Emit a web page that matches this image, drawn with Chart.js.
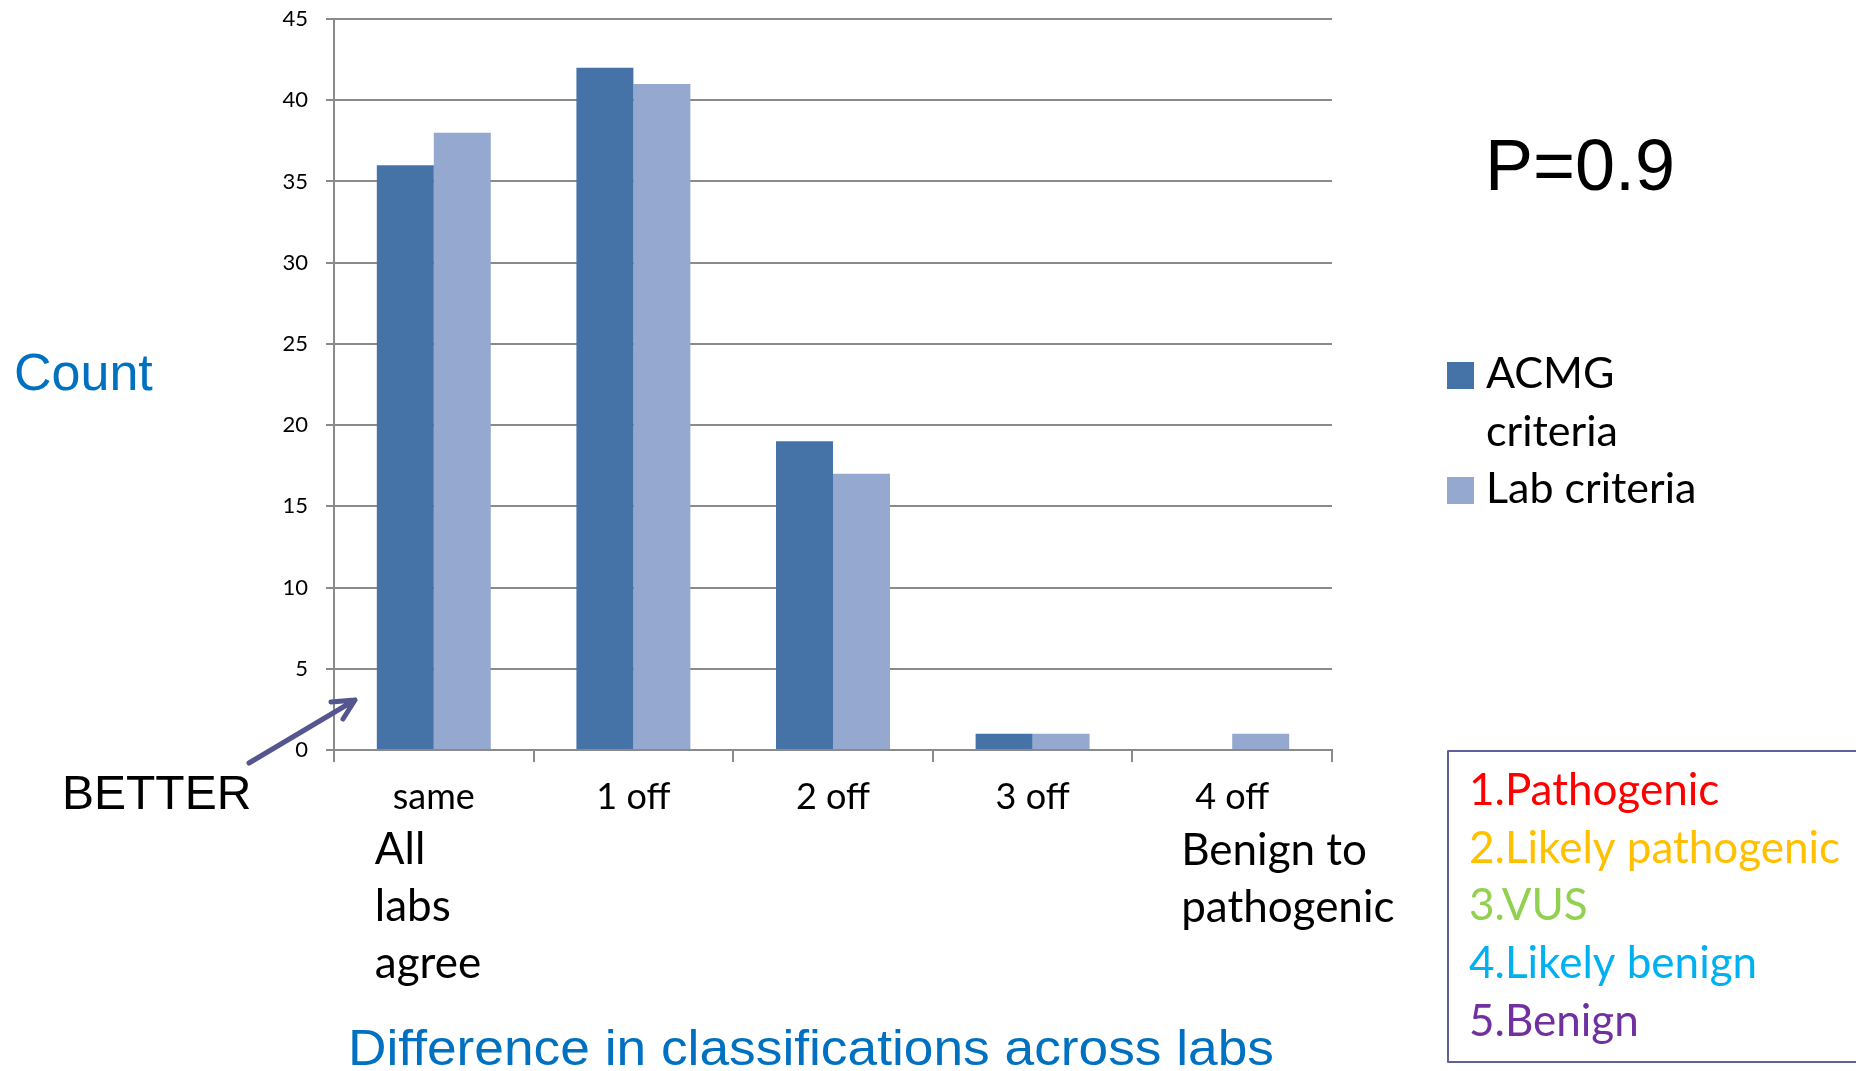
<!DOCTYPE html>
<html>
<head>
<meta charset="utf-8">
<style>
  html, body { margin: 0; padding: 0; background: #fff; }
  #wrap { width: 1856px; height: 1071px; position: relative; }
</style>
<script src="https://cdn.jsdelivr.net/npm/chart.js@4.4.1/dist/chart.umd.min.js"></script>
</head>
<body>
<div id="wrap"><canvas id="diffChart" width="1856" height="1071"></canvas></div>
<script>
// data
const categories = ['same', '1 off', '2 off', '3 off', '4 off'];
const acmgCounts = [36, 42, 19, 1, 0];
const labCounts = [38, 41, 17, 1, 1];
const seriesNames = ['ACMG criteria', 'Lab criteria'];
const yTicks = [0, 5, 10, 15, 20, 25, 30, 35, 40, 45];
const classLabels = ['1.Pathogenic', '2.Likely pathogenic', '3.VUS', '4.Likely benign', '5.Benign'];
const classColors = ['#ff0000', '#ffc000', '#92d050', '#00b0f0', '#7030a0'];

const DARK = '#4573a7';
const LIGHT = '#95a9d0';
const GRID = '#8a8a8a';
const BLUE_TXT = '#0070c0';

// extra slide text: axis titles, notes, legend boxes
const slideText = {
    id: 'slideText',
    afterDraw(chart) {
        const ctx = chart.ctx;
        const x = chart.scales.x;
        ctx.save();
        ctx.textBaseline = 'alphabetic';
        ctx.textAlign = 'left';

        // axis titles
        ctx.fillStyle = BLUE_TXT;
        ctx.font = '52px "Liberation Sans", Arial, sans-serif';
        ctx.fillText('Count', 14, 390);

        const title = 'Difference in classifications across labs';
        ctx.font = '50px "Liberation Sans", Arial, sans-serif';
        const tw = ctx.measureText(title).width;
        ctx.save();
        ctx.translate(348, 1065);
        ctx.scale(926 / tw, 1);
        ctx.fillText(title, 0, 0);
        ctx.restore();

        // P value
        ctx.fillStyle = '#000';
        ctx.font = '72px "Liberation Sans", Arial, sans-serif';
        ctx.fillText('P=0.9', 1485, 190);

        // BETTER + arrow
        ctx.font = '48px "Liberation Sans", Arial, sans-serif';
        ctx.fillText('BETTER', 62, 809);
        ctx.strokeStyle = '#55558f';
        ctx.lineWidth = 5;
        ctx.lineCap = 'round';
        ctx.lineJoin = 'round';
        ctx.beginPath();
        ctx.moveTo(249, 763);
        ctx.lineTo(355, 700);
        ctx.moveTo(331, 702);
        ctx.lineTo(355, 700);
        ctx.lineTo(343, 719);
        ctx.stroke();

        // notes under first and last category
        ctx.fillStyle = '#000';
        ctx.font = '44px Lato, sans-serif';
        const c0 = x.getPixelForValue(0);
        ['All', 'labs', 'agree'].forEach((t, i) => ctx.fillText(t, c0 - 59, 864 + i * 57));
        const c4 = x.getPixelForValue(4);
        ['Benign to', 'pathogenic'].forEach((t, i) => ctx.fillText(t, c4 - 51, 865 + i * 57));

        // series legend
        ctx.font = '43px Lato, sans-serif';
        let ly = 388;
        chart.data.datasets.forEach(ds => {
            ctx.fillStyle = ds.backgroundColor;
            ctx.fillRect(1447, ly - 26, 27, 27);
            ctx.fillStyle = '#000';
            const words = ds.label.split(' ');
            let line = '';
            words.forEach(w => {
                const test = line ? line + ' ' + w : w;
                if (line && ctx.measureText(test).width > 230) {
                    ctx.fillText(line, 1486, ly);
                    ly += 58;
                    line = w;
                } else {
                    line = test;
                }
            });
            ctx.fillText(line, 1486, ly);
            ly += 57;
        });

        // classification box
        ctx.strokeStyle = '#5f5f9a';
        ctx.lineWidth = 2;
        ctx.strokeRect(1448, 751, 440, 311);
        ctx.font = '44px Lato, sans-serif';
        classLabels.forEach((t, i) => {
            ctx.fillStyle = classColors[i];
            ctx.fillText(t, 1469, 805 + i * 57.7);
        });
        ctx.restore();
    }
};

const ctx = document.getElementById('diffChart').getContext('2d');
new Chart(ctx, {
    type: 'bar',
    data: {
        labels: categories,
        datasets: [
            { label: seriesNames[0], data: acmgCounts, backgroundColor: DARK },
            { label: seriesNames[1], data: labCounts, backgroundColor: LIGHT }
        ]
    },
    options: {
        responsive: false,
        animation: false,
        events: [],
        layout: { padding: { left: 0, right: 524, top: 19, bottom: 0 } },
        datasets: {
            bar: { categoryPercentage: 0.571, barPercentage: 1.0, borderWidth: 0 }
        },
        plugins: {
            legend: { display: false },
            tooltip: { enabled: false }
        },
        scales: {
            x: {
                afterFit: s => { s.height = 321; s.paddingLeft = 0; s.paddingRight = 0; },
                grid: {
                    offset: true,
                    drawOnChartArea: false,
                    color: GRID,
                    lineWidth: 2,
                    tickLength: 12
                },
                border: { color: GRID, width: 2 },
                ticks: {
                    color: '#000',
                    padding: 14,
                    font: { family: 'Lato', size: 36 }
                }
            },
            y: {
                min: 0,
                max: 45,
                afterFit: s => { s.width = 334; s.paddingTop = 0; s.paddingBottom = 0; },
                afterBuildTicks: s => { s.ticks = yTicks.map(v => ({ value: v })); },
                grid: { color: GRID, lineWidth: 2, tickLength: 8 },
                border: { color: GRID, width: 2 },
                ticks: {
                    color: '#000',
                    padding: 18,
                    font: { family: 'Lato', size: 22 }
                }
            }
        }
    },
    plugins: [slideText]
});
</script>
</body>
</html>
